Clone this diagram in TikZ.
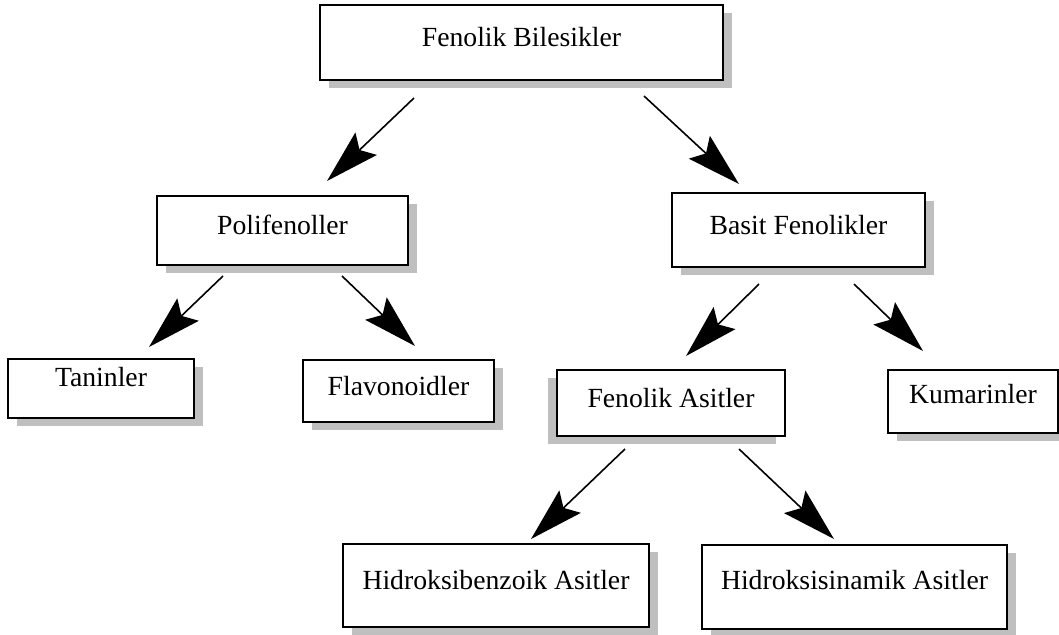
\documentclass[tikz,border=0pt]{standalone}
\usepackage{fontspec}
\setmainfont{Liberation Serif}
\usetikzlibrary{arrows.meta,shadows}
\begin{document}
\begin{tikzpicture}[x=0.5pt,y=-0.5pt,
  kutu/.style={draw,line width=1pt,fill=white,inner sep=0pt,
    text height=8pt,text depth=4pt,font=\fontsize{13.85}{16}\selectfont,
    drop shadow={shadow xshift=#1,shadow yshift=-4pt,fill=black!25,opacity=1}},
  kutu/.default=4.5pt,
  ok/.style={line width=0.8pt,-{Stealth[length=27pt,width=15.5pt,inset=4.5pt]}}]
\useasboundingbox (0,0) rectangle (1059,634);

\node[kutu,minimum width=201.5pt,minimum height=37.5pt] (fb) at (521.5,42.5) {Fenolik Bilesikler};

\node[kutu,minimum width=125.5pt,minimum height=34.5pt] (pf) at (282.5,230.5) {Polifenoller};
\node[kutu,minimum width=126.5pt,minimum height=37pt] (bf) at (798.5,230) {Basit Fenolikler};

\node[kutu,minimum width=93pt,minimum height=29.5pt,text depth=10.5pt] (tn) at (101,388.5) {Taninler};
\node[kutu,minimum width=95.5pt,minimum height=31pt] (fl) at (398.5,391) {Flavonoidler};
\node[kutu=-4.5pt,minimum width=114pt,minimum height=33pt] (fa) at (671,403) {Fenolik Asitler};
\node[kutu,minimum width=85pt,minimum height=31.5pt,text depth=6.5pt] (km) at (973,401.5) {Kumarinler};

\node[kutu,minimum width=153pt,minimum height=41.5pt] (hb) at (496,585.5) {Hidroksibenzoik Asitler};
\node[kutu,minimum width=152.5pt,minimum height=42pt,text depth=6pt] (hs) at (854.5,587) {Hidroksisinamik Asitler};

\draw[ok] ([shift={(95,17)}]fb.south west) -- ([shift={(171,-14)}]pf.north west);
\draw[ok] ([shift={(325,15)}]fb.south west) -- ([shift={(68,-8)}]bf.north west);
\draw[ok] ([shift={(67,10)}]pf.south west) -- ([shift={(142,-11)}]tn.north west);
\draw[ok] ([shift={(186,10)}]pf.south west) -- ([shift={(113,-13)}]fl.north west);
\draw[ok] ([shift={(88,16)}]bf.south west) -- ([shift={(130,-13)}]fa.north west);
\draw[ok] ([shift={(183,16)}]bf.south west) -- ([shift={(36,-18)}]km.north west);
\draw[ok] ([shift={(69,12)}]fa.south west) -- ([shift={(189,-4)}]hb.north west);
\draw[ok] ([shift={(183,12)}]fa.south west) -- ([shift={(133,-5)}]hs.north west);
\end{tikzpicture}
\end{document}
